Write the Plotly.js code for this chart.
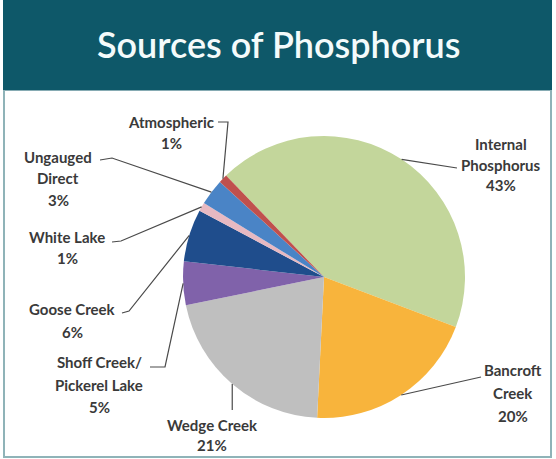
<!DOCTYPE html>
<html>
<head>
<meta charset="utf-8">
<script src="https://cdn.plot.ly/plotly-3.0.1.min.js"></script>
<style>html,body{margin:0;padding:0;background:#fff;}#chart{width:556px;height:459px;}</style>
</head>
<body>
<div id="chart"></div>
<script>
// ---- data ----
var sources = ['Internal Phosphorus', 'Bancroft Creek', 'Wedge Creek', 'Shoff Creek/Pickerel Lake', 'Goose Creek', 'White Lake', 'Ungauged Direct', 'Atmospheric'];
var labelLines = ['Internal<br>Phosphorus', 'Bancroft<br>Creek', 'Wedge Creek', 'Shoff Creek/<br>Pickerel Lake', 'Goose Creek', 'White Lake', 'Ungauged<br>Direct', 'Atmospheric'];
var shares = [43, 20, 21, 5, 6, 1, 3, 1];
var sliceColors = ['#c3d69b', '#f8b43c', '#bfbfbf', '#8062aa', '#1f4d8c', '#e7b9c2', '#4a84c6', '#c0504d'];
var chartTitle = 'Sources of Phosphorus';

// ---- layout constants (pixels) ----
var W = 556, H = 459;
var CX = 324, CY = 277, R = 141;
var ROT = -44;
function px(x) { return x / W; }
function py(y) { return 1 - y / H; }

// label block positions: [centerX, firstLineY, lineSpacing]
var labelPos = [
  [501, 144, 20.5],
  [513, 370, 23],
  [212, 425, 20],
  [99, 362, 22.5],
  [72, 309, 23],
  [67, 237, 21],
  [58, 157, 21.5],
  [171, 122, 21]
];
// leader line extra points (from text end toward pie), pixels
var leaderPts = [
  [[457, 168]],
  [[481, 377]],
  null,
  [[150, 367], [165, 367]],
  [[122, 313], [129, 311]],
  [[112, 242], [121, 241]],
  [[100, 160], [112, 158]],
  [[218, 122], [228, 122]]
];

var total = shares.reduce(function (a, b) { return a + b; }, 0);
var annotations = [];
var shapes = [];

// header band
shapes.push({type: 'rect', xref: 'paper', yref: 'paper', x0: px(3), x1: px(552), y0: py(90.5), y1: 1,
  fillcolor: '#0e5869', line: {width: 0}, layer: 'below'});
// frame
shapes.push({type: 'path', xref: 'paper', yref: 'paper',
  path: 'M' + px(4) + ',' + py(90) + ' L' + px(4) + ',' + py(457) + ' L' + px(551) + ',' + py(457) + ' L' + px(551) + ',' + py(90),
  line: {color: '#8fb3b8', width: 2}, layer: 'below'});

annotations.push({xref: 'paper', yref: 'paper', x: px(279), y: py(44), xanchor: 'center', yanchor: 'middle',
  text: chartTitle, showarrow: false, font: {family: 'Lato, sans-serif', size: 36, color: '#f4fbfb', weight: 600}});

var cum = 0;
for (var i = 0; i < shares.length; i++) {
  var mid = ROT + (cum + shares[i] / 2) / total * 360;
  cum += shares[i];
  var a = mid * Math.PI / 180;
  var tx = CX + R * Math.sin(a), ty = CY - R * Math.cos(a);
  var pct = Math.round(shares[i] / total * 100) + '%';
  var lines = labelLines[i].split('<br>').concat([pct]);
  var p = labelPos[i];
  for (var j = 0; j < lines.length; j++) {
    annotations.push({xref: 'paper', yref: 'paper', x: px(p[0]), y: py(p[1] + j * p[2]),
      xanchor: 'center', yanchor: 'middle', text: lines[j], showarrow: false,
      font: {family: 'Lato, sans-serif', size: 15, color: '#3a3a3a', weight: 700}});
  }
  var pts = leaderPts[i] ? leaderPts[i].slice() : [[tx, 410]];
  var path = 'M' + px(pts[0][0]) + ',' + py(pts[0][1]);
  for (var k = 1; k < pts.length; k++) path += ' L' + px(pts[k][0]) + ',' + py(pts[k][1]);
  path += ' L' + px(tx) + ',' + py(ty);
  shapes.push({type: 'path', xref: 'paper', yref: 'paper', path: path, line: {color: '#4a4a4a', width: 1.2}});
}

var trace = {
  type: 'pie',
  labels: sources,
  values: shares,
  sort: false,
  direction: 'clockwise',
  rotation: ROT,
  textinfo: 'none',
  hoverinfo: 'label+percent',
  marker: {colors: sliceColors, line: {color: '#ffffff', width: 0}},
  domain: {x: [px(CX - R), px(CX + R)], y: [py(CY + R), py(CY - R)]},
  showlegend: false
};

var layout = {
  width: W, height: H,
  margin: {l: 0, r: 0, t: 0, b: 0},
  paper_bgcolor: '#ffffff',
  showlegend: false,
  shapes: shapes,
  annotations: annotations
};

Plotly.newPlot('chart', [trace], layout, {displayModeBar: false, staticPlot: true});
</script>
</body>
</html>
